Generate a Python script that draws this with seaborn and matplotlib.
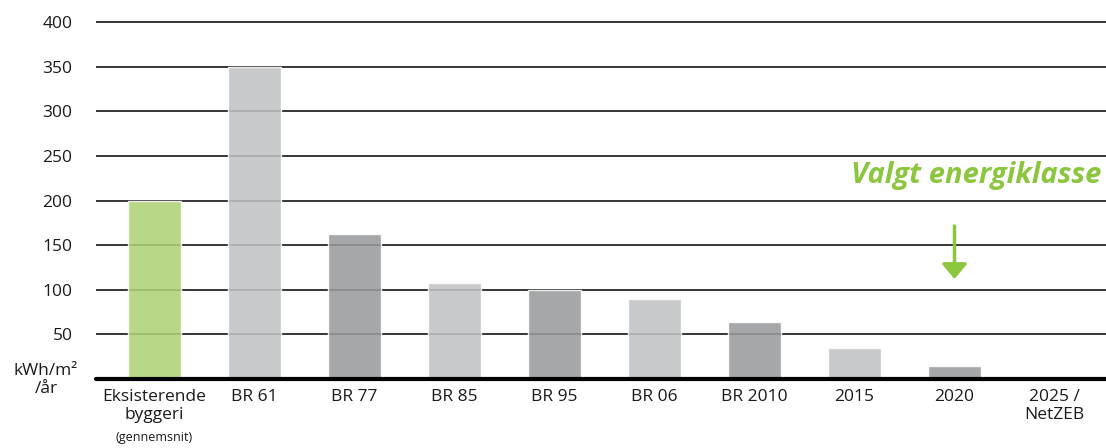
import matplotlib
matplotlib.use("Agg")
import matplotlib.pyplot as plt
import matplotlib.transforms as mtransforms
import seaborn as sns
import pandas as pd

# Energy frame per building regulation (kWh/m² per year)
categories = ["Eksisterende\nbyggeri", "BR 61", "BR 77", "BR 85", "BR 95",
              "BR 06", "BR 2010", "2015", "2020", "2025 /\nNetZEB"]
values = [200, 350, 162, 108, 100, 90, 64, 35, 15, 0]
# alternating light / dark grey, existing stock in green
bar_colors = ["#AFD375", "#C0C1C3", "#989A9C", "#C0C1C3", "#989A9C",
              "#C0C1C3", "#989A9C", "#C0C1C3", "#989A9C", "#C0C1C3"]
yticks = [50, 100, 150, 200, 250, 300, 350, 400]
unit_label = "kWh/m²\n/år"
note_label = "(gennemsnit)"
highlight_text = "Valgt energiklasse"
highlight_index = 8

sns.set_theme(style="white")
plt.rcParams["font.family"] = ["Open Sans", "DejaVu Sans"]

df = pd.DataFrame({"kategori": categories, "vaerdi": values})

W, H = 1106, 448
fig = plt.figure(figsize=(W / 100, H / 100), dpi=100)
y0, ymax = 379, 410
px_per_unit = 357 / 400
top_px = y0 - ymax * px_per_unit
ax = fig.add_axes([96 / W, 1 - y0 / H, 1 - 96 / W, (y0 - top_px) / H])

sns.barplot(data=df, x="kategori", y="vaerdi", hue="kategori",
            palette=bar_colors, legend=False, width=0.53, alpha=0.87,
            saturation=1, ax=ax, zorder=2)

ax.set_xlim(-0.585, 9.515)
ax.set_ylim(0, ymax)
ax.set_yticks(yticks)
ax.set_yticklabels([str(t) for t in yticks], fontsize=12.5, color="#1a1a1a")
ax.yaxis.grid(True, color="black", linewidth=1.1, zorder=1)
ax.set_axisbelow(True)
ax.tick_params(axis="y", length=0, pad=17)
ax.tick_params(axis="x", length=0, pad=7, labelsize=12.5, labelcolor="#1a1a1a")
ax.set_xlabel("")
ax.set_ylabel("")
for s in ax.spines.values():
    s.set_visible(False)

# thick baseline
ax.axhline(0, color="black", linewidth=3, zorder=4, clip_on=False)

# small note under the first label
trans = mtransforms.blended_transform_factory(ax.transData, fig.transFigure)
ax.text(0, 1 - 437 / H, note_label, transform=trans, ha="center", va="center",
        fontsize=9, color="#1a1a1a")

# unit label left of the baseline
fig.text(46 / W, 1 - 380 / H, unit_label, ha="center", va="center",
         fontsize=12.5, color="#1a1a1a", multialignment="center")

# highlight caption and arrow
green = "#8CC63F"
fig.text(1101 / W, 1 - 176 / H, highlight_text, ha="right", va="center",
         fontsize=21, fontweight="bold", fontstyle="italic", color=green)
ax.annotate("", xy=(highlight_index, (y0 - 279) / px_per_unit),
            xytext=(highlight_index, (y0 - 226) / px_per_unit),
            arrowprops=dict(arrowstyle="-|>,head_length=0.45,head_width=0.38",
                            mutation_scale=20, color=green, lw=2.5,
                            shrinkA=0, shrinkB=0))

fig.savefig("out.png", dpi=100)
